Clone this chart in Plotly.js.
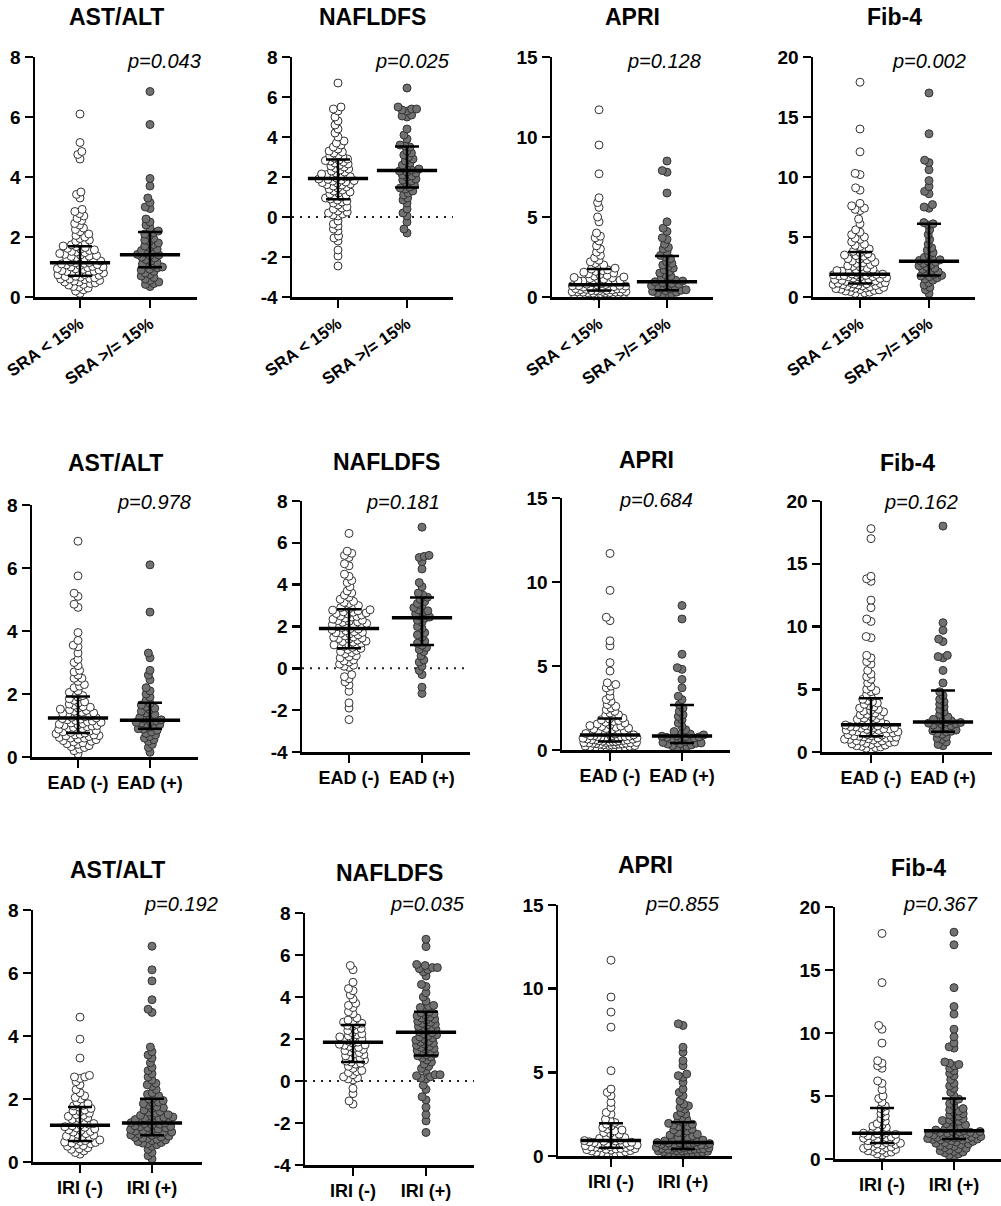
<!DOCTYPE html>
<html>
<head>
<meta charset="utf-8">
<script src="https://cdn.plot.ly/plotly-3.0.1.min.js"></script>
<style>html,body{margin:0;padding:0;background:#fff;}#chart{width:1001px;height:1206px;}</style>
</head>
<body>
<div id="chart"></div>
<script>
// ---------------- DATA ----------------
const metricNames = ["AST/ALT", "NAFLDFS", "APRI", "Fib-4"];
const groupingLabels = [["SRA &lt; 15%", "SRA &gt;/= 15%"], ["EAD (-)", "EAD (+)"], ["IRI (-)", "IRI (+)"]];
const pLabels = [
  ["p=0.043", "p=0.025", "p=0.128", "p=0.002"],
  ["p=0.978", "p=0.181", "p=0.684", "p=0.162"],
  ["p=0.192", "p=0.035", "p=0.855", "p=0.367"]
];

// AST/ALT
const ast_sraLow = [0.12,0.2,0.24,0.3,0.33,0.35,0.4,0.42,0.45,0.47,0.5,0.5,0.53,0.55,0.58,0.6,0.6,0.62,0.64,0.66,0.68,0.69,0.72,0.74,0.75,0.78,0.8,0.8,0.82,0.85,0.86,0.88,0.9,0.92,0.94,0.95,0.98,1.0,1.0,1.02,1.05,1.07,1.08,1.1,1.12,1.14,1.15,1.17,1.2,1.22,1.25,1.27,1.3,1.32,1.35,1.36,1.38,1.4,1.42,1.45,1.48,1.5,1.52,1.55,1.57,1.6,1.62,1.65,1.68,1.7,1.74,1.78,1.82,1.86,1.9,1.95,2.0,2.05,2.1,2.18,2.25,2.3,2.4,2.45,2.55,2.62,2.7,2.78,2.85,2.92,3.3,3.42,3.5,4.6,4.75,4.85,5.15,6.1];
const ast_sraHigh = [0.35,0.42,0.45,0.5,0.55,0.6,0.65,0.7,0.75,0.8,0.85,0.9,0.93,0.97,1.0,1.05,1.08,1.1,1.15,1.2,1.25,1.3,1.33,1.38,1.4,1.42,1.48,1.52,1.55,1.6,1.65,1.7,1.75,1.8,1.85,1.9,1.95,2.05,2.1,2.15,2.2,2.3,2.4,2.5,2.6,2.95,3.0,3.15,3.3,3.7,3.95,5.75,6.85];
const ast_eadNeg = [0.1,0.2,0.25,0.3,0.33,0.36,0.4,0.42,0.45,0.48,0.5,0.52,0.55,0.57,0.6,0.6,0.62,0.65,0.67,0.68,0.7,0.7,0.72,0.74,0.76,0.78,0.8,0.82,0.84,0.86,0.88,0.9,0.92,0.94,0.96,0.98,1.0,1.0,1.02,1.04,1.06,1.08,1.1,1.12,1.14,1.16,1.18,1.2,1.22,1.24,1.26,1.28,1.3,1.33,1.35,1.38,1.4,1.42,1.45,1.48,1.5,1.52,1.55,1.58,1.6,1.64,1.68,1.72,1.75,1.8,1.85,1.9,1.95,2.0,2.05,2.1,2.2,2.25,2.3,2.4,2.5,2.5,2.6,2.7,2.75,2.9,3.0,3.1,3.3,3.5,3.55,3.7,3.95,4.75,4.85,5.1,5.2,5.75,6.85];
const ast_eadPos = [0.15,0.3,0.4,0.5,0.55,0.6,0.65,0.7,0.75,0.8,0.85,0.88,0.9,0.95,1.0,1.02,1.05,1.08,1.1,1.12,1.15,1.18,1.2,1.25,1.3,1.35,1.4,1.45,1.5,1.55,1.6,1.65,1.7,1.8,1.9,2.0,2.1,2.2,2.45,2.6,2.75,3.15,3.3,4.6,6.1];
const ast_iriNeg = [0.25,0.3,0.35,0.4,0.42,0.45,0.5,0.52,0.55,0.58,0.6,0.62,0.63,0.65,0.68,0.7,0.72,0.75,0.78,0.8,0.82,0.85,0.88,0.9,0.95,0.97,1.0,1.02,1.05,1.08,1.1,1.12,1.15,1.18,1.2,1.22,1.25,1.3,1.35,1.38,1.4,1.45,1.48,1.5,1.55,1.6,1.62,1.65,1.7,1.75,1.78,1.8,1.85,1.9,2.0,2.05,2.1,2.2,2.3,2.45,2.55,2.65,2.7,2.7,2.75,3.3,3.9,4.6];
const ast_iriPos = [0.1,0.2,0.3,0.4,0.5,0.55,0.58,0.6,0.62,0.65,0.68,0.7,0.72,0.75,0.76,0.78,0.8,0.82,0.85,0.86,0.88,0.9,0.92,0.94,0.95,0.98,1.0,1.02,1.03,1.05,1.08,1.1,1.12,1.13,1.15,1.18,1.2,1.22,1.24,1.25,1.28,1.3,1.32,1.33,1.35,1.38,1.4,1.42,1.43,1.45,1.48,1.5,1.55,1.58,1.6,1.65,1.7,1.72,1.75,1.8,1.85,1.88,1.9,1.95,2.0,2.05,2.1,2.15,2.2,2.3,2.4,2.45,2.5,2.6,2.7,2.8,2.9,3.0,3.15,3.3,3.4,3.5,3.65,4.75,4.85,5.15,5.75,6.1,6.85];

// NAFLDFS
const naf_sraLow = [-2.45,-1.95,-1.65,-1.2,-1.05,-0.95,-0.7,-0.6,-0.45,-0.35,-0.2,0.05,0.1,0.15,0.2,0.25,0.3,0.4,0.45,0.5,0.6,0.7,0.75,0.8,0.85,0.9,0.95,1.0,1.05,1.1,1.15,1.2,1.25,1.3,1.35,1.4,1.45,1.5,1.55,1.6,1.62,1.65,1.7,1.72,1.75,1.8,1.82,1.85,1.88,1.9,1.95,2.0,2.02,2.05,2.1,2.12,2.15,2.2,2.25,2.3,2.35,2.4,2.45,2.5,2.55,2.6,2.65,2.7,2.75,2.8,2.82,2.85,2.9,2.95,3.0,3.05,3.1,3.2,3.25,3.3,3.4,3.5,3.6,3.7,3.8,4.0,4.2,4.4,4.6,4.8,5.0,5.3,5.4,5.5,6.7];
const naf_sraHigh = [-0.8,-0.6,-0.25,0.05,0.2,0.4,0.7,0.85,0.95,1.1,1.2,1.3,1.4,1.45,1.5,1.6,1.7,1.8,1.85,1.9,2.0,2.05,2.1,2.2,2.25,2.3,2.35,2.4,2.5,2.6,2.7,2.8,2.9,3.0,3.1,3.2,3.3,3.5,3.55,3.6,3.9,4.1,4.4,5.0,5.05,5.1,5.3,5.35,5.4,5.4,5.5,6.45];
const naf_eadNeg = [-2.45,-1.9,-1.65,-1.1,-0.8,-0.65,-0.5,-0.4,-0.3,0.05,0.1,0.15,0.2,0.3,0.35,0.4,0.5,0.55,0.6,0.7,0.75,0.8,0.85,0.9,0.95,1.0,1.05,1.08,1.1,1.12,1.15,1.2,1.25,1.28,1.3,1.35,1.4,1.42,1.45,1.48,1.5,1.55,1.6,1.65,1.68,1.7,1.72,1.75,1.8,1.85,1.88,1.9,1.95,2.0,2.02,2.05,2.08,2.1,2.15,2.2,2.22,2.25,2.28,2.3,2.35,2.4,2.45,2.48,2.5,2.55,2.6,2.62,2.65,2.68,2.7,2.75,2.78,2.8,2.85,2.9,2.95,3.0,3.1,3.15,3.2,3.3,3.4,3.5,3.6,3.7,3.9,4.1,4.2,4.4,4.5,4.9,5.0,5.3,5.4,5.5,5.6,6.45];
const naf_eadPos = [-1.2,-0.9,-0.3,-0.1,0.1,0.3,0.4,0.6,0.8,0.9,1.0,1.1,1.2,1.3,1.5,1.6,1.7,1.9,2.0,2.2,2.3,2.4,2.45,2.5,2.6,2.7,2.75,2.8,2.9,3.0,3.1,3.2,3.3,3.4,3.5,3.6,3.9,4.1,4.75,5.1,5.3,5.35,5.4,6.75];
const naf_iriNeg = [-1.1,-0.95,-0.6,-0.35,0.05,0.1,0.15,0.2,0.3,0.4,0.45,0.5,0.6,0.7,0.8,0.85,0.9,0.95,1.0,1.05,1.1,1.15,1.2,1.25,1.3,1.35,1.4,1.45,1.5,1.55,1.6,1.65,1.7,1.72,1.75,1.8,1.85,1.9,1.95,2.0,2.05,2.1,2.15,2.2,2.25,2.3,2.4,2.45,2.5,2.6,2.65,2.7,2.75,2.8,2.85,2.9,3.0,3.2,3.3,3.5,3.6,3.7,3.9,4.1,4.3,4.4,4.7,5.3,5.5];
const naf_iriPos = [-2.45,-1.9,-1.6,-1.25,-0.9,-0.75,-0.4,-0.2,0.1,0.15,0.2,0.25,0.3,0.3,0.5,0.6,0.7,0.8,0.9,1.0,1.1,1.15,1.2,1.25,1.3,1.35,1.4,1.45,1.5,1.55,1.6,1.65,1.7,1.75,1.8,1.85,1.9,1.95,2.0,2.05,2.1,2.15,2.2,2.25,2.3,2.35,2.4,2.45,2.5,2.55,2.6,2.65,2.7,2.75,2.8,2.85,2.9,2.95,3.0,3.05,3.1,3.15,3.2,3.25,3.3,3.4,3.5,3.55,3.6,3.8,4.0,4.2,4.5,4.6,5.0,5.2,5.3,5.35,5.4,5.4,5.5,5.55,6.4,6.75];

// APRI
const apri_sraLow = [0.05,0.06,0.08,0.1,0.1,0.12,0.14,0.15,0.17,0.18,0.2,0.2,0.22,0.24,0.25,0.27,0.28,0.3,0.3,0.31,0.32,0.33,0.34,0.35,0.38,0.4,0.4,0.42,0.44,0.45,0.48,0.5,0.5,0.52,0.55,0.56,0.58,0.6,0.6,0.62,0.65,0.68,0.7,0.7,0.72,0.75,0.78,0.8,0.85,0.9,0.92,0.95,1.0,1.02,1.05,1.1,1.12,1.15,1.2,1.22,1.25,1.3,1.35,1.4,1.45,1.5,1.55,1.6,1.65,1.7,1.75,1.8,1.9,2.0,2.1,2.2,2.3,2.45,2.6,2.8,3.0,3.2,3.5,3.7,3.8,4.0,4.7,5.0,5.6,5.9,6.2,7.7,9.5,11.7];
const apri_sraHigh = [0.1,0.15,0.2,0.25,0.3,0.35,0.4,0.42,0.45,0.5,0.55,0.6,0.65,0.7,0.75,0.8,0.85,0.9,0.95,1.0,1.05,1.1,1.2,1.3,1.4,1.5,1.6,1.7,1.8,1.9,2.0,2.1,2.2,2.4,2.5,2.6,2.8,3.0,3.1,3.3,3.6,3.7,4.1,4.3,4.7,6.5,7.8,7.9,8.5];
const apri_eadNeg = [0.05,0.07,0.1,0.12,0.14,0.16,0.18,0.2,0.22,0.24,0.26,0.28,0.3,0.3,0.32,0.34,0.35,0.36,0.38,0.4,0.4,0.42,0.43,0.44,0.45,0.45,0.47,0.5,0.5,0.52,0.54,0.55,0.57,0.6,0.6,0.62,0.64,0.65,0.67,0.7,0.7,0.72,0.74,0.75,0.77,0.78,0.8,0.8,0.82,0.83,0.84,0.85,0.9,0.95,0.98,1.0,1.05,1.1,1.12,1.15,1.2,1.25,1.28,1.3,1.35,1.4,1.42,1.45,1.5,1.55,1.6,1.65,1.7,1.75,1.8,1.85,1.9,2.0,2.05,2.1,2.2,2.3,2.4,2.5,2.6,2.7,2.9,3.0,3.2,3.5,3.7,3.8,3.9,4.0,4.7,5.2,6.2,6.5,7.7,7.9,9.5,11.7];
const apri_eadPos = [0.1,0.15,0.2,0.25,0.3,0.35,0.38,0.4,0.42,0.45,0.5,0.55,0.6,0.65,0.7,0.72,0.75,0.78,0.8,0.82,0.85,0.9,0.95,1.0,1.1,1.2,1.4,1.6,1.8,2.0,2.1,2.3,2.5,2.7,3.0,3.2,3.7,4.2,4.8,4.9,5.7,7.8,8.6];
const apri_iriNeg = [0.05,0.1,0.12,0.15,0.2,0.22,0.25,0.3,0.32,0.35,0.38,0.4,0.42,0.44,0.45,0.48,0.5,0.52,0.55,0.56,0.58,0.6,0.62,0.65,0.66,0.68,0.7,0.72,0.75,0.78,0.8,0.82,0.85,0.88,0.9,0.92,0.95,1.0,1.05,1.1,1.15,1.2,1.3,1.35,1.4,1.5,1.55,1.6,1.7,1.8,1.9,2.0,2.1,2.2,2.5,2.6,2.9,3.2,3.6,3.8,4.0,5.1,7.7,8.6,9.5,11.7];
const apri_iriPos = [0.05,0.08,0.1,0.12,0.15,0.18,0.2,0.22,0.25,0.28,0.3,0.3,0.32,0.35,0.36,0.38,0.4,0.4,0.42,0.43,0.44,0.45,0.48,0.5,0.5,0.52,0.55,0.57,0.6,0.6,0.62,0.64,0.65,0.67,0.7,0.7,0.72,0.74,0.75,0.76,0.78,0.79,0.8,0.8,0.85,0.9,0.95,1.0,1.05,1.1,1.15,1.2,1.25,1.3,1.35,1.4,1.5,1.55,1.6,1.7,1.75,1.8,1.85,1.9,1.95,2.0,2.1,2.2,2.3,2.4,2.5,2.6,2.8,2.9,3.0,3.1,3.3,3.6,3.8,4.0,4.4,4.7,4.8,4.9,5.4,5.7,6.2,6.5,7.8,7.9];

// Fib-4
const fib_sraLow = [0.2,0.3,0.35,0.4,0.45,0.5,0.55,0.6,0.62,0.65,0.7,0.72,0.75,0.8,0.82,0.85,0.9,0.92,0.95,1.0,1.02,1.05,1.08,1.1,1.12,1.15,1.2,1.22,1.25,1.28,1.3,1.35,1.38,1.4,1.45,1.48,1.5,1.55,1.58,1.6,1.65,1.68,1.7,1.75,1.78,1.8,1.82,1.85,1.88,1.9,1.92,1.95,2.0,2.05,2.1,2.15,2.2,2.25,2.3,2.4,2.5,2.55,2.6,2.7,2.8,2.85,2.9,3.0,3.1,3.15,3.2,3.3,3.4,3.45,3.5,3.6,3.7,3.8,3.9,4.0,4.2,4.3,4.4,4.6,4.8,4.9,5.0,5.2,5.4,5.6,6.1,6.5,7.2,7.3,7.4,7.6,7.8,8.9,9.1,10.2,10.3,12.1,14.0,17.9];
const fib_sraHigh = [0.3,0.6,0.8,1.0,1.2,1.4,1.5,1.6,1.7,1.75,1.8,1.9,2.0,2.1,2.2,2.3,2.4,2.5,2.6,2.7,2.8,2.9,3.0,3.05,3.1,3.2,3.3,3.5,3.7,3.9,4.1,4.4,4.8,5.2,5.6,6.0,6.1,6.2,7.4,7.5,7.7,8.6,8.8,9.2,9.7,10.6,11.2,11.4,13.6,17.0];
const fib_eadNeg = [0.2,0.3,0.35,0.4,0.45,0.5,0.55,0.6,0.65,0.7,0.72,0.75,0.8,0.85,0.88,0.9,0.95,1.0,1.02,1.05,1.1,1.12,1.15,1.18,1.2,1.25,1.28,1.3,1.35,1.38,1.4,1.45,1.5,1.52,1.55,1.6,1.62,1.65,1.7,1.72,1.75,1.8,1.82,1.85,1.9,1.92,1.95,2.0,2.02,2.05,2.08,2.1,2.15,2.2,2.3,2.35,2.4,2.5,2.6,2.65,2.7,2.8,2.9,2.95,3.0,3.1,3.2,3.25,3.3,3.4,3.5,3.6,3.7,3.8,3.9,4.0,4.1,4.2,4.4,4.6,4.8,4.9,5.0,5.2,5.5,5.8,6.0,6.2,6.5,7.0,7.2,7.5,7.7,9.1,9.2,10.4,10.6,11.5,12.1,13.6,13.8,14.0,17.0,17.8];
const fib_eadPos = [0.5,0.6,0.8,1.0,1.1,1.2,1.4,1.5,1.6,1.65,1.7,1.75,1.8,1.9,2.0,2.1,2.15,2.2,2.25,2.3,2.35,2.4,2.45,2.5,2.6,2.7,2.8,3.0,3.2,3.4,3.6,3.8,4.0,4.2,4.5,4.8,5.5,6.5,7.5,7.6,7.7,8.8,9.0,9.7,10.3,18.0];
const fib_iriNeg = [0.3,0.4,0.5,0.55,0.6,0.65,0.7,0.75,0.8,0.85,0.9,0.95,1.0,1.05,1.1,1.15,1.2,1.25,1.3,1.35,1.4,1.45,1.5,1.55,1.6,1.65,1.7,1.75,1.8,1.85,1.9,1.95,2.0,2.05,2.1,2.2,2.3,2.4,2.5,2.6,2.7,2.8,3.0,3.2,3.4,3.6,3.8,4.0,4.2,4.5,4.8,5.0,5.5,6.0,6.2,7.2,7.4,7.6,7.8,9.2,10.3,10.6,14.0,17.9];
const fib_iriPos = [0.2,0.3,0.4,0.5,0.55,0.6,0.65,0.7,0.8,0.85,0.9,1.0,1.05,1.1,1.15,1.2,1.25,1.3,1.35,1.4,1.45,1.5,1.52,1.55,1.58,1.6,1.62,1.65,1.68,1.7,1.72,1.75,1.78,1.8,1.85,1.88,1.9,1.95,1.98,2.0,2.02,2.05,2.1,2.12,2.15,2.18,2.2,2.25,2.3,2.4,2.5,2.55,2.6,2.7,2.8,2.9,3.0,3.05,3.1,3.2,3.3,3.4,3.5,3.6,3.7,3.8,3.9,4.0,4.2,4.4,4.6,4.75,5.0,5.3,5.6,5.8,6.0,6.3,6.6,6.8,7.0,7.2,7.4,7.5,7.6,7.7,8.8,8.9,9.2,9.7,10.3,11.5,12.1,13.6,17.0,18.0];

// Median, Q1, Q3 per metric: [group (-)/low, group (+)/high]
const sraMedian = [[1.14,1.41],[1.93,2.32],[0.76,0.95],[1.9,2.97]];
const sraQ1     = [[0.71,0.99],[0.89,1.47],[0.40,0.42],[1.12,1.80]];
const sraQ3     = [[1.69,2.17],[2.88,3.52],[1.75,2.57],[3.75,6.10]];
const eadMedian = [[1.24,1.17],[1.91,2.42],[0.89,0.83],[2.17,2.39]];
const eadQ1     = [[0.76,0.90],[0.96,1.11],[0.50,0.42],[1.25,1.62]];
const eadQ3     = [[1.92,1.72],[2.83,3.39],[1.88,2.68],[4.28,4.90]];
const iriMedian = [[1.17,1.24],[1.84,2.32],[0.92,0.80],[2.05,2.25]];
const iriQ1     = [[0.67,0.85],[0.90,1.21],[0.50,0.42],[1.27,1.59]];
const iriQ3     = [[1.75,2.01],[2.67,3.30],[1.95,2.01],[4.04,4.81]];

// ---------------- ASSEMBLY ----------------
const rowValues = [
  [[ast_sraLow, ast_sraHigh], [naf_sraLow, naf_sraHigh], [apri_sraLow, apri_sraHigh], [fib_sraLow, fib_sraHigh]],
  [[ast_eadNeg, ast_eadPos], [naf_eadNeg, naf_eadPos], [apri_eadNeg, apri_eadPos], [fib_eadNeg, fib_eadPos]],
  [[ast_iriNeg, ast_iriPos], [naf_iriNeg, naf_iriPos], [apri_iriNeg, apri_iriPos], [fib_iriNeg, fib_iriPos]]
];
const rowMedian = [sraMedian, eadMedian, iriMedian];
const rowQ1 = [sraQ1, eadQ1, iriQ1];
const rowQ3 = [sraQ3, eadQ3, iriQ3];

// axis settings per metric: [min, max, dtick]
const yAxisSpec = [[0, 8, 2], [-4, 8, 2], [0, 15, 5], [0, 20, 5]];

// panel geometry in pixels: [left, right, top, bottom, tick0x, tick1x, titleY, pY, pRight]
const panelBoxes = [
  [35, 197, 57, 297, 80, 150, 17, 61, 203],
  [292, 453, 57, 297, 338, 407, 17, 61, 452],
  [552, 713, 57, 297, 599, 667, 17, 61, 703],
  [813, 975, 57, 297, 860, 929, 17, 61, 968],
  [32, 198, 505, 757, 78, 150, 463, 502, 193],
  [302, 470, 501, 752, 349, 422, 462, 502, 442],
  [562, 730, 498, 750, 610, 682, 460, 500, 695],
  [822, 992, 501, 752, 871, 943, 463, 502, 960],
  [33, 202, 910, 1162, 80, 152, 870, 904, 220],
  [305, 474, 913, 1165, 353, 426, 873, 904, 467],
  [558, 732, 905, 1156, 611, 683, 865, 904, 722],
  [835, 1001, 907, 1159, 882, 954, 868, 904, 980]
];

const W = 1001, H = 1206;
const FONT = "Liberation Sans, Arial, Helvetica, sans-serif";
const markerSize = 8;

// beeswarm offsets (pixels) so overlapping points spread sideways
function swarm(values, pxPerUnit, D, maxHalf) {
  const idx = values.map((v, i) => i).sort((a, b) => values[a] - values[b]);
  const placed = [];
  const out = new Array(values.length).fill(0);
  for (const i of idx) {
    const y = values[i] * pxPerUnit;
    let d = D, x = null;
    for (let attempt = 0; attempt < 12 && x === null; attempt++) {
      const ivs = [];
      for (const p of placed) {
        const dy = Math.abs(p.y - y);
        if (dy < d) { const w = Math.sqrt(d * d - dy * dy); ivs.push([p.x - w, p.x + w]); }
      }
      const cands = [0];
      ivs.forEach(iv => cands.push(iv[0], iv[1]));
      cands.sort((a, b) => Math.abs(a) - Math.abs(b) || a - b);
      for (const c of cands) {
        if (Math.abs(c) > maxHalf) break;
        if (ivs.every(iv => c <= iv[0] + 1e-6 || c >= iv[1] - 1e-6)) { x = c; break; }
      }
      d *= 0.85;
    }
    if (x === null) x = 0;
    placed.push({ x, y });
    out[i] = x;
  }
  return out;
}

const traces = [];
const layout = {
  width: W, height: H,
  margin: { l: 0, r: 0, t: 0, b: 0 },
  paper_bgcolor: "#fff", plot_bgcolor: "rgba(0,0,0,0)",
  showlegend: false,
  font: { family: FONT, color: "#000" },
  annotations: [], shapes: []
};

for (let r = 0; r < 3; r++) {
  for (let m = 0; m < 4; m++) {
    const k = r * 4 + m + 1;
    const [L, R, T, B, t0, t1, titleY, pY, pR] = panelBoxes[k - 1];
    const [ymin, ymax, dtick] = yAxisSpec[m];
    const s = t1 - t0;
    const xr0 = -(t0 - L) / s;
    const xr1 = xr0 + (R - L) / s;
    const pxPerUnit = (B - T) / (ymax - ymin);
    const xa = k === 1 ? "x" : "x" + k;
    const ya = k === 1 ? "y" : "y" + k;
    const axisCommon = {
      showline: true, linewidth: 2.5, linecolor: "#000",
      ticks: "outside", ticklen: 8, tickwidth: 2.5, tickcolor: "#000",
      showgrid: false, zeroline: false, fixedrange: true
    };
    layout["xaxis" + (k === 1 ? "" : k)] = Object.assign({}, axisCommon, {
      domain: [L / W, R / W], anchor: ya, range: [xr0, xr1],
      tickmode: "array", tickvals: [0, 1], ticktext: groupingLabels[r].map(t => "<b>" + t + "</b>"),
      tickangle: r === 0 ? -35 : 0,
      tickfont: { family: FONT, size: r === 0 ? 17 : 18, color: "#000" }
    });
    const yTickVals = [], yTickText = [];
    for (let v = ymin; v <= ymax + 1e-9; v += dtick) { yTickVals.push(v); yTickText.push("<b>" + String(v) + "</b>"); }
    layout["yaxis" + (k === 1 ? "" : k)] = Object.assign({}, axisCommon, {
      domain: [1 - B / H, 1 - T / H], anchor: xa, range: [ymin, ymax],
      tickmode: "array", tickvals: yTickVals, ticktext: yTickText,
      tickfont: { family: FONT, size: 19, color: "#000" }
    });

    if (m === 1) {
      layout.shapes.push({
        type: "line", xref: xa + " domain", yref: ya, x0: 0, x1: 1, y0: 0, y1: 0,
        line: { color: "#222", width: 2, dash: "2px,6px" }, layer: "below"
      });
    }

    for (let g = 0; g < 2; g++) {
      const vals = rowValues[r][m][g];
      const off = swarm(vals, pxPerUnit, 5.0, 27);
      traces.push({
        type: "scatter", mode: "markers", xaxis: xa, yaxis: ya,
        x: off.map(o => g + o / s), y: vals, cliponaxis: false, hoverinfo: "y",
        marker: {
          size: markerSize, color: g === 0 ? "#ffffff" : "#717171",
          line: { color: "#333333", width: 1 }
        }
      });
    }
    const med = rowMedian[r][m], q1 = rowQ1[r][m], q3 = rowQ3[r][m];
    traces.push({
      type: "scatter", mode: "markers", xaxis: xa, yaxis: ya,
      x: [0, 1], y: med, cliponaxis: false, hoverinfo: "skip",
      marker: { symbol: "line-ew", size: 43, color: "#000", line: { color: "#000", width: 3.5 } },
      error_y: {
        type: "data", symmetric: false,
        array: med.map((v, i) => q3[i] - v), arrayminus: med.map((v, i) => v - q1[i]),
        width: 12, thickness: 2.5, color: "#000"
      }
    });

    layout.annotations.push({
      xref: "paper", yref: "paper", x: (L + R) / 2 / W, y: 1 - titleY / H,
      xanchor: "center", yanchor: "middle", showarrow: false,
      text: "<b>" + metricNames[m] + "</b>", font: { family: FONT, size: 23, color: "#000" }
    });
    layout.annotations.push({
      xref: "paper", yref: "paper", x: pR / W, y: 1 - pY / H,
      xanchor: "right", yanchor: "middle", showarrow: false,
      text: "<i>" + pLabels[r][m] + "</i>", font: { family: FONT, size: 20, color: "#000" }
    });
  }
}

Plotly.newPlot("chart", traces, layout, { displayModeBar: false, staticPlot: true });
</script>
</body>
</html>
